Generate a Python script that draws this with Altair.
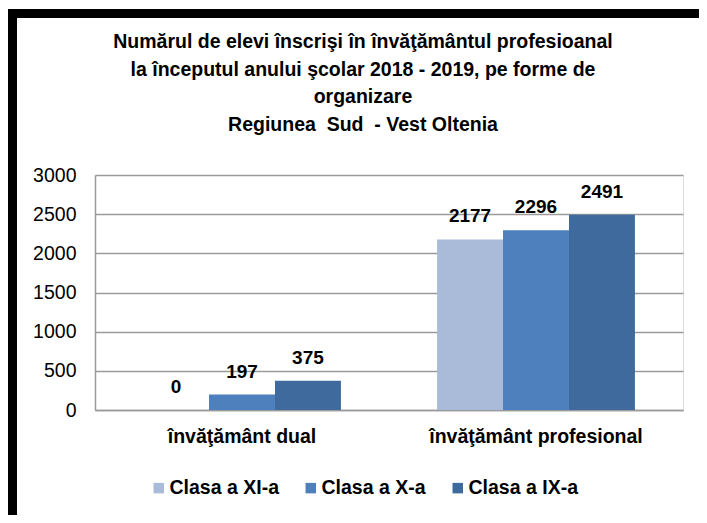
import altair as alt
import pandas as pd

title_lines = ["Numărul de elevi înscrişi în învăţământul profesioanal",
               "la începutul anului şcolar 2018 - 2019, pe forme de",
               "organizare",
               "Regiunea\u00a0 Sud\u00a0 - Vest Oltenia"]
forms = ["învăţământ dual", "învăţământ profesional"]
classes = ["Clasa a XI-a", "Clasa a X-a", "Clasa a IX-a"]
dual_values = [0, 197, 375]
prof_values = [2177, 2296, 2491]
colors = ["#AABBDA", "#4E80BD", "#3E6A9E"]
y_ticks = [0, 500, 1000, 1500, 2000, 2500, 3000]

rows = []
for c, v in zip(classes, dual_values):
    rows.append({"forma": forms[0], "clasa": c, "valoare": v})
for c, v in zip(classes, prof_values):
    rows.append({"forma": forms[1], "clasa": c, "valoare": v})
df = pd.DataFrame(rows)

FONT = "Liberation Sans, Arial, sans-serif"
W, H = 588, 235

x_enc = alt.X("forma:N", sort=forms, title=None,
              scale=alt.Scale(paddingInner=0.327, paddingOuter=0.1635),
              axis=alt.Axis(labelAngle=0, labelFontSize=19.5, labelFontWeight="bold",
                            labelColor="#000000", labelFont=FONT, labelPadding=17,
                            labelLimit=500, ticks=False, domainColor="#9a9a9a",
                            domainWidth=1.5))
xo_enc = alt.XOffset("clasa:N", sort=classes, scale=alt.Scale(paddingInner=0, paddingOuter=0))
y_enc = alt.Y("valoare:Q", title=None,
              scale=alt.Scale(domain=[0, 3000], nice=False),
              axis=alt.Axis(values=y_ticks, format="d", labelOverlap=False,
                            labelFontSize=19.5, labelColor="#000000",
                            labelFont=FONT, labelPadding=19, ticks=False,
                            domainColor="#9a9a9a", domainWidth=1.5,
                            gridColor="#9a9a9a", gridWidth=1.5))

bars = alt.Chart(df).mark_bar().encode(
    x=x_enc, xOffset=xo_enc, y=y_enc,
    color=alt.Color("clasa:N", sort=classes, scale=alt.Scale(domain=classes, range=colors),
                    legend=alt.Legend(title=None, orient="none", direction="horizontal",
                                      legendX=54, legendY=303, padding=0,
                                      symbolType="square",
                                      symbolSize=110, symbolStrokeWidth=0,
                                      labelFontSize=19.5, labelFontWeight="bold",
                                      labelFont=FONT, labelColor="#000000",
                                      columnPadding=22, symbolOffset=0, labelOffset=1,
                                      labelLimit=300))
)

labels = alt.Chart(df).mark_text(fontSize=19, fontWeight="bold", font=FONT,
                                 color="#000000", baseline="middle", dy=-23).encode(
    x=x_enc, xOffset=xo_enc, y=y_enc, text="valoare:Q"
)

one = alt.Data(values=[{"k": 1}])
title_mark = alt.Chart(one).mark_text(
    text=title_lines, fontSize=19.5, fontWeight="bold", font=FONT, color="#000000",
    lineHeight=27.5, align="center", baseline="top"
).encode(x=alt.value(268), y=alt.value(-142))

left_bar = alt.Chart(one).mark_rect(color="#000000").encode(
    x=alt.value(-87), x2=alt.value(-78), y=alt.value(-166), y2=alt.value(360))
top_bar = alt.Chart(one).mark_rect(color="#000000").encode(
    x=alt.value(-87), x2=alt.value(620), y=alt.value(-166), y2=alt.value(-157))

chart = alt.layer(bars, labels, title_mark, left_bar, top_bar).properties(
    width=W, height=H,
    autosize=alt.AutoSizeParams(type="none"),
    padding={"left": 87, "top": 167, "right": 16, "bottom": 105},
).configure_view(stroke=None).configure(background="#ffffff")

chart.save("out.html", embed_options={"renderer": "svg", "actions": False})
